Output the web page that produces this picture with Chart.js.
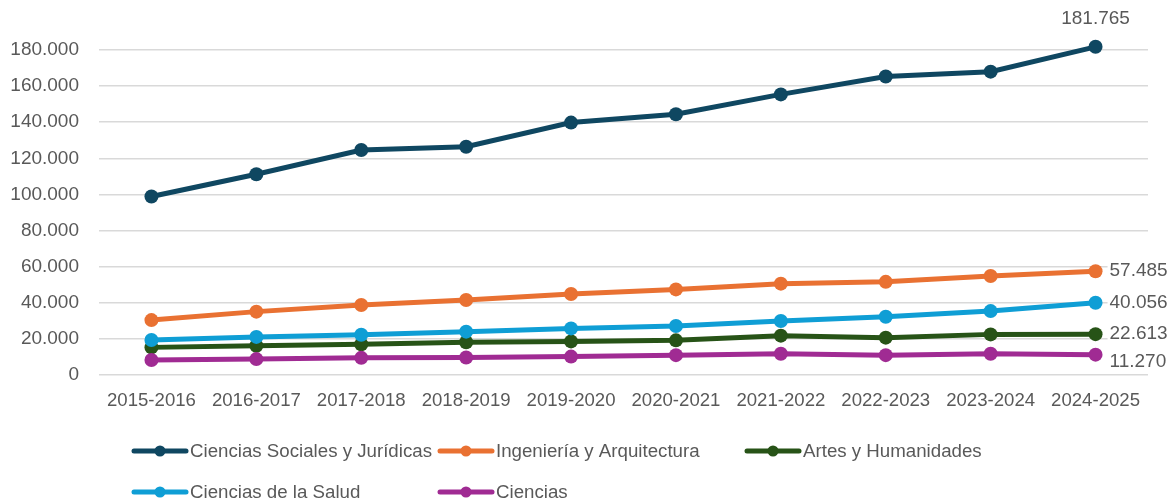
<!DOCTYPE html>
<html>
<head>
<meta charset="utf-8">
<script src="https://cdn.jsdelivr.net/npm/chart.js@4"></script>
<style>
  html, body { margin: 0; padding: 0; background: #ffffff; }
  #wrap { position: relative; width: 1176px; height: 502px; }
</style>
</head>
<body>
<div id="wrap"><canvas id="c" width="1176" height="502"></canvas></div>
<script>
const categories = ["2015-2016","2016-2017","2017-2018","2018-2019","2019-2020","2020-2021","2021-2022","2022-2023","2023-2024","2024-2025"];
const seriesNames = ["Ciencias Sociales y Jurídicas","Ingeniería y Arquitectura","Artes y Humanidades","Ciencias de la Salud","Ciencias"];
const socialesJuridicas = [98900, 111200, 124600, 126400, 139800, 144400, 155400, 165300, 168000, 181765];
const ingenieriaArquitectura = [30400, 35100, 38800, 41500, 44900, 47400, 50600, 51600, 54800, 57485];
const artesHumanidades = [15300, 16200, 17000, 18100, 18600, 19200, 21800, 20700, 22500, 22613];
const cienciasSalud = [19400, 21100, 22300, 24000, 25800, 27100, 29900, 32300, 35400, 40056];
const ciencias = [8300, 8800, 9500, 9700, 10200, 11000, 11800, 11000, 11800, 11270];
const yTicks = [0, 20000, 40000, 60000, 80000, 100000, 120000, 140000, 160000, 180000];

const colors = ["#0F4761", "#E97132", "#275317", "#0F9ED5", "#A02B93"];
const allSeries = [socialesJuridicas, ingenieriaArquitectura, artesHumanidades, cienciasSalud, ciencias];

function fmt(v) {
  const s = Math.round(v).toString();
  return s.replace(/\B(?=(\d{3})+(?!\d))/g, ".");
}

const FONT = "'Liberation Sans', Arial, sans-serif";
const TXT = "#595959";

// label placement for last points: [dx, dy, align]
const labelPlace = [[0, -28, "center"], [14, 0, "left"], [14, 0, "left"], [14, 0, "left"], [14, 7, "left"]];
const legendPos = [[132, 451], [438, 451], [745, 451], [132, 492], [438, 492]];

const lastLabels = {
  id: "lastLabels",
  afterDatasetsDraw(chart) {
    const ctx = chart.ctx;
    ctx.save();
    ctx.font = "19px " + FONT;
    ctx.textBaseline = "middle";
    chart.data.datasets.forEach((ds, i) => {
      const meta = chart.getDatasetMeta(i);
      const n = ds.data.length - 1;
      const pt = meta.data[n];
      const txt = fmt(ds.data[n]);
      const p = labelPlace[i];
      const w = ctx.measureText(txt).width;
      let x = pt.x + p[0], y = pt.y + p[1];
      let left = p[2] === "center" ? x - w / 2 : x;
      ctx.fillStyle = "#ffffff";
      ctx.fillRect(left - 2, y - 10, w + 4, 20);
      ctx.fillStyle = TXT;
      ctx.textAlign = p[2];
      ctx.fillText(txt, x, y);
    });
    ctx.restore();
  }
};

const customLegend = {
  id: "customLegend",
  afterDraw(chart) {
    const ctx = chart.ctx;
    ctx.save();
    ctx.font = "18.7px " + FONT;
    ctx.textBaseline = "middle";
    ctx.textAlign = "left";
    chart.data.datasets.forEach((ds, i) => {
      const [x, y] = legendPos[i];
      ctx.strokeStyle = ds.borderColor;
      ctx.lineWidth = 5;
      ctx.lineCap = "round";
      ctx.beginPath();
      ctx.moveTo(x + 2, y);
      ctx.lineTo(x + 54, y);
      ctx.stroke();
      ctx.fillStyle = ds.borderColor;
      ctx.beginPath();
      ctx.arc(x + 28, y, 5.5, 0, Math.PI * 2);
      ctx.fill();
      ctx.fillStyle = TXT;
      ctx.fillText(ds.label, x + 58, y + 1);
    });
    ctx.restore();
  }
};

const datasets = allSeries.map((arr, i) => ({
  label: seriesNames[i],
  data: arr,
  borderColor: colors[i],
  backgroundColor: colors[i],
  pointBackgroundColor: colors[i],
  pointBorderColor: colors[i],
  borderWidth: 5,
  pointRadius: 7,
  pointBorderWidth: 0,
  pointHoverRadius: 7,
  tension: 0,
  order: 10 - i,
  clip: false
}));

new Chart(document.getElementById("c"), {
  type: "line",
  data: { labels: categories, datasets: datasets },
  plugins: [lastLabels, customLegend],
  options: {
    responsive: false,
    animation: false,
    devicePixelRatio: 1,
    layout: { padding: { top: 50, right: 28, left: 0, bottom: 0 } },
    plugins: { legend: { display: false }, tooltip: { enabled: false } },
    scales: {
      x: {
        offset: true,
        grid: { display: false, drawTicks: false },
        border: { display: false },
        ticks: { color: TXT, font: { family: FONT, size: 18.6 }, padding: 15, maxRotation: 0, autoSkip: false },
        afterFit(scale) { scale.height = 127; }
      },
      y: {
        min: 0, max: 180000,
        afterBuildTicks(scale) { scale.ticks = yTicks.map(v => ({ value: v })); },
        grid: { color: "#D9D9D9", lineWidth: 1.5, drawTicks: false },
        border: { display: false },
        ticks: { color: TXT, font: { family: FONT, size: 19 }, padding: 20, callback: v => fmt(v) },
        afterFit(scale) { scale.width = 99; }
      }
    }
  }
});
</script>
</body>
</html>
